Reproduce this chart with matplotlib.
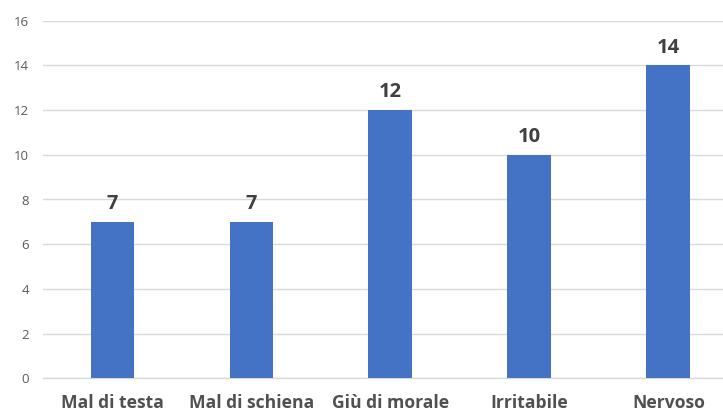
import matplotlib
matplotlib.use("Agg")
import matplotlib.pyplot as plt

categories = ["Mal di testa", "Mal di schiena", "Giù di morale", "Irritabile", "Nervoso"]
values = [7, 7, 12, 10, 14]
yticks = [0, 2, 4, 6, 8, 10, 12, 14, 16]

plt.rcParams['font.family'] = ['Open Sans', 'DejaVu Sans']

W, H = 723, 415
fig = plt.figure(figsize=(W/100, H/100), dpi=100)
left, right = 43/W, 1.0
bottom, top = (H-378.3)/H, (H-20.7)/H
ax = fig.add_axes([left, bottom, right-left, top-bottom])

x = list(range(len(categories)))
bars = ax.bar(x, values, width=0.316, color="#4472C4", zorder=3)
ax.set_xlim(-0.5, 4.393)
ax.set_ylim(0, 16)
ax.set_yticks(yticks)
ax.set_yticklabels([str(t) for t in yticks], fontsize=9.5, color="#595959")
ax.set_xticks(x)
ax.set_xticklabels(categories, fontsize=12.6, fontweight="bold", color="#505050")
ax.tick_params(axis="both", length=0)
ax.tick_params(axis="y", pad=10)
ax.tick_params(axis="x", pad=11)
ax.grid(axis="y", color="#D9D9D9", linewidth=1, zorder=0)
for s in ["top", "right", "left"]:
    ax.spines[s].set_visible(False)
ax.spines["bottom"].set_color("#D9D9D9")
ax.spines["bottom"].set_linewidth(1)

for xi, v in zip(x, values):
    ax.annotate(str(v), (xi, v), xytext=(0, 5.5), textcoords="offset points",
                ha="center", va="bottom", fontsize=14.5, fontweight="bold", color="#404040")

fig.savefig("out.png", dpi=100)
